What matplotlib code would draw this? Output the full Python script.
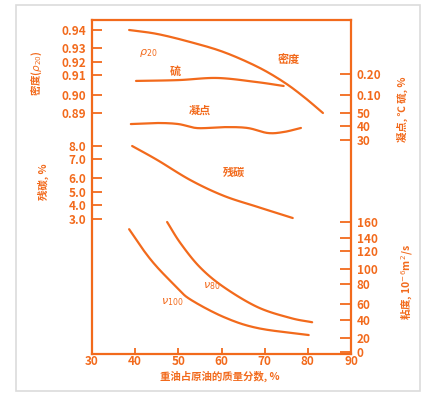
import numpy as np
import matplotlib
matplotlib.use("Agg")
from matplotlib import pyplot as plt
from matplotlib.patches import Rectangle

plt.rcParams['font.family'] = ['Noto Sans CJK SC', 'DejaVu Sans']
plt.rcParams['mathtext.fontset'] = 'dejavusans'

OR = '#f26a1c'

# nomogram scales: tick values and their heights on the chart (pixel rows)
den_ticks = [0.94, 0.93, 0.92, 0.91, 0.90, 0.89]
den_pos = [30, 48, 62, 75, 95, 113]
cr_ticks = [8.0, 7.0, 6.0, 5.0, 4.0, 3.0]
cr_pos = [146, 159, 178, 192, 205, 219]
s_ticks = [0.20, 0.10]
s_pos = [74, 95]
pp_ticks = [50, 40, 30]
pp_pos = [113, 126, 140]
vis_ticks = [160, 140, 120, 100, 80, 60, 40, 20, 0]
vis_pos = [222, 238, 251, 269, 284, 304, 320, 338, 352]

# curves (x = 重油占原油的质量分数, %)
den_x = [38.6, 45.1, 52.8, 60.5, 68.4, 74.4, 79.1, 83.5]
den_y = [0.9405, 0.9378, 0.9333, 0.9271, 0.9162, 0.9065, 0.8989, 0.8900]
s_x = [40.2, 50.0, 59.0, 68.0, 74.4]
s_y = [0.167, 0.171, 0.181, 0.162, 0.143]
pp_x = [39.0, 45.0, 50.0, 54.4, 60.5, 66.0, 70.7, 74.4, 78.4]
pp_y = [41.5, 42.3, 41.5, 38.5, 39.2, 38.6, 35.0, 35.7, 38.6]
cr_x = [39.3, 45.1, 52.8, 60.5, 68.4, 76.5]
cr_y = [8.31, 6.95, 5.85, 4.71, 3.86, 3.07]
v100_x = [38.6, 41.9, 45.1, 49.8, 52.8, 60.5, 68.4, 80.2]
v100_y = [151, 121.5, 102, 76, 64.5, 43.75, 31, 23.3]
v80_x = [47.4, 50.5, 55.0, 60.5, 68.4, 76.0, 81.0]
v80_y = [160, 132, 102, 77, 56, 42.5, 37.5]


def scale(vals, ticks, pos):
    t = np.array(ticks)[::-1]
    p = np.array(pos)[::-1]
    return np.interp(np.array(vals), t, p)


def catmull(x, y, n=20):
    # smooth curve through the read points
    P = np.column_stack([x, y]).astype(float)
    P = np.vstack([2 * P[0] - P[1], P, 2 * P[-1] - P[-2]])
    out = []
    t = np.linspace(0, 1, n, endpoint=False)[:, None]
    for i in range(1, len(P) - 2):
        p0, p1, p2, p3 = P[i - 1], P[i], P[i + 1], P[i + 2]
        seg = 0.5 * ((2 * p1) + (-p0 + p2) * t + (2 * p0 - 5 * p1 + 4 * p2 - p3) * t ** 2
                     + (-p0 + 3 * p1 - 3 * p2 + p3) * t ** 3)
        out.append(seg)
    out.append(P[-2][None, :])
    out = np.vstack(out)
    return out[:, 0], out[:, 1]


fig = plt.figure(figsize=(4.32, 4.0), dpi=100)
fig.patches.append(Rectangle((16 / 432, 9 / 400), 404 / 432, 386 / 400,
                             transform=fig.transFigure, fill=False,
                             edgecolor='#dcdcdc', lw=1.2))
ax = fig.add_axes([92 / 432, 46 / 400, 259 / 432, 334 / 400])
ax.set_xlim(30, 90)
ax.set_ylim(354, 20)

lw = 1.6
for xs, ys, tk, ps in [(den_x, den_y, den_ticks, den_pos),
                       (s_x, s_y, s_ticks, s_pos),
                       (pp_x, pp_y, pp_ticks, pp_pos),
                       (cr_x, cr_y, cr_ticks, cr_pos),
                       (v100_x, v100_y, vis_ticks, vis_pos),
                       (v80_x, v80_y, vis_ticks, vis_pos)]:
    cx, cy = catmull(xs, scale(ys, tk, ps))
    ax.plot(cx, cy, color=OR, lw=lw, solid_capstyle='round')

for sp in ax.spines.values():
    sp.set_color(OR)
    sp.set_linewidth(1.6)

ax.set_xticks([30, 40, 50, 60, 70, 80, 90])
ax.tick_params(axis='x', direction='in', length=4, width=1.3, colors=OR,
               labelsize=8.5, pad=1)
for lb in ax.get_xticklabels():
    lb.set_fontweight('bold')

ax.set_yticks(den_pos + cr_pos)
ax.set_yticklabels(['%.2f' % v for v in den_ticks] + ['%.1f' % v for v in cr_ticks],
                   fontweight='bold')
ax.tick_params(axis='y', direction='in', length=7, width=1.3, colors=OR,
               labelsize=8.5, pad=4)

ax2 = ax.twinx()
ax2.set_ylim(354, 20)
ax2.set_yticks(s_pos + pp_pos + vis_pos)
ax2.set_yticklabels(['%.2f' % v for v in s_ticks] + [str(v) for v in pp_ticks] +
                    [str(v) for v in vis_ticks], fontweight='bold')
ax2.tick_params(axis='y', direction='in', length=8, width=1.3, colors=OR,
                labelsize=8.5, pad=4)
for sp in ax2.spines.values():
    sp.set_visible(False)

# curve labels
ax.text(43, 53, r'$\rho_{20}$', color=OR, fontsize=8, ha='center', va='center')
ax.text(75.6, 60, '密度', color=OR, fontsize=8, fontweight='bold', ha='center', va='center')
ax.text(49.3, 71, '硫', color=OR, fontsize=8, fontweight='bold', ha='center', va='center')
ax.text(55.0, 110, '凝点', color=OR, fontsize=8, fontweight='bold', ha='center', va='center')
ax.text(62.8, 172, '残碳', color=OR, fontsize=8, fontweight='bold', ha='center', va='center')
ax.text(57.8, 286, r'$\nu_{80}$', color=OR, fontsize=8, ha='center', va='center')
ax.text(48.5, 302, r'$\nu_{100}$', color=OR, fontsize=8, ha='center', va='center')

# axis titles
fig.text(37 / 432, 1 - 73 / 400, r'密度($\rho_{20}$)', color=OR, fontsize=7.5,
         fontweight='bold', rotation=90, ha='center', va='center')
fig.text(43 / 432, 1 - 182 / 400, '残碳, %', color=OR, fontsize=7.5,
         fontweight='bold', rotation=90, ha='center', va='center')
fig.text(402 / 432, 1 - 109 / 400, '凝点, ℃ 硫, %', color=OR, fontsize=7.5,
         fontweight='bold', rotation=90, ha='center', va='center')
fig.text(407 / 432, 1 - 282 / 400, '粘度, 10$^{-6}$m$^2$/s', color=OR, fontsize=7.5,
         fontweight='bold', rotation=90, ha='center', va='center')
fig.text(220 / 432, 1 - 376 / 400, '重油占原油的质量分数, %', color=OR, fontsize=7.5,
         fontweight='bold', ha='center', va='center')

fig.savefig('out.png', dpi=100)
